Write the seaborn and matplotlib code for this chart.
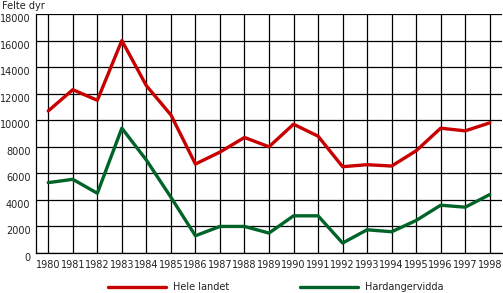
import matplotlib
matplotlib.use("Agg")
import matplotlib.pyplot as plt
import matplotlib.transforms as mtransforms
import seaborn as sns
import pandas as pd
from matplotlib.lines import Line2D

years = [str(y) for y in range(1980, 1999)]
hele_landet = [10700, 12300, 11500, 16000, 12600, 10400, 6700, 7600, 8700, 8000,
               9700, 8800, 6500, 6650, 6550, 7700, 9400, 9200, 9800]
hardangervidda = [5300, 5550, 4500, 9400, 7000, 4200, 1300, 2000, 2000, 1500,
                  2800, 2800, 750, 1750, 1600, 2450, 3600, 3450, 4400]
series_names = ["Hele landet", "Hardangervidda"]
yticks = list(range(0, 18001, 2000))

df = pd.DataFrame({
    "year": years * 2,
    "value": hele_landet + hardangervidda,
    "series": [series_names[0]] * len(years) + [series_names[1]] * len(years),
})

sns.set_theme(style="white")
plt.rcParams["font.family"] = ["DejaVu Sans"]

fig = plt.figure(figsize=(5.03, 2.93), dpi=100)
ax = fig.add_axes([36 / 503, 1 - 253 / 293, 466 / 503, 239 / 293])

palette = {"Hele landet": "#C80000", "Hardangervidda": "#006428"}
sns.lineplot(data=df, x="year", y="value", hue="series", palette=palette,
             linewidth=2.4, ax=ax, sort=False, legend=False)

ax.set_xlim(-0.5, len(years) - 0.5)
ax.set_ylim(0, 18000)
ax.set_yticks(yticks)
ax.set_yticklabels([str(v) for v in yticks])
ax.set_xticks(range(len(years)))
ax.set_xticklabels(years)
ax.tick_params(axis="both", length=0, labelsize=7, colors="#222222", pad=4)
ax.tick_params(axis="x", pad=5)
# y labels sit slightly below their gridlines in the reference
offset = mtransforms.ScaledTranslation(0, -4 / 100, fig.dpi_scale_trans)
for lbl in ax.get_yticklabels():
    lbl.set_transform(lbl.get_transform() + offset)
ax.set_xlabel("")
ax.set_ylabel("")
ax.grid(True, color="black", linewidth=0.9)
ax.set_axisbelow(True)
for s in ax.spines.values():
    s.set_color("black")
    s.set_linewidth(0.9)
ax.spines["top"].set_visible(False)
ax.spines["right"].set_visible(False)

fig.text(2 / 503, 1 - 6 / 293, "Felte dyr", fontsize=7, va="center", ha="left", color="#222222")

handles = [Line2D([], [], color=palette[n], linewidth=2.4) for n in series_names]
fig.legend(handles, series_names, loc="center", bbox_to_anchor=(0.548, 1 - 287 / 293),
           ncol=2, frameon=False, fontsize=7, handlelength=6.0, columnspacing=7.3,
           handletextpad=0.7, borderaxespad=0, labelcolor="#222222")

fig.savefig("out.png", dpi=100)
